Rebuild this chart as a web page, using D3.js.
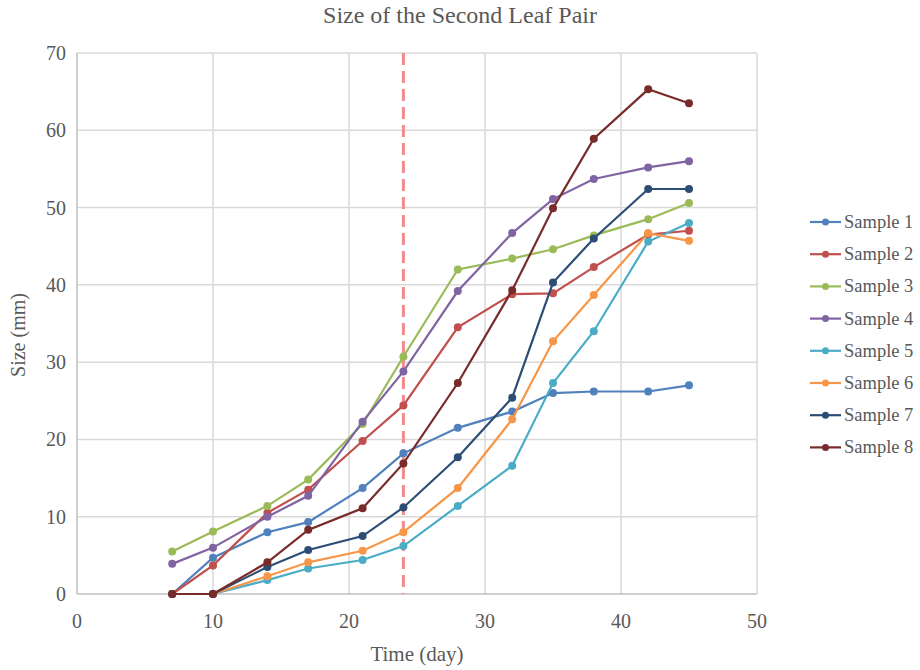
<!DOCTYPE html>
<html>
<head>
<meta charset="utf-8">
<script src="https://cdn.jsdelivr.net/npm/d3@7"></script>
<style>
body { margin: 0; background: #fff; }
text { font-family: "Liberation Serif", "Times New Roman", serif; }
</style>
</head>
<body>
<svg id="chart" width="920" height="670"></svg>
<script>
var days = [7, 10, 14, 17, 21, 24, 28, 32, 35, 38, 42, 45];

var sample1 = [0, 4.7, 8.0, 9.3, 13.7, 18.2, 21.5, 23.6, 26.0, 26.2, 26.2, 27.0];
var sample2 = [0, 3.7, 10.5, 13.5, 19.8, 24.4, 34.5, 38.8, 38.9, 42.3, 46.5, 47.0];
var sample3 = [5.5, 8.1, 11.4, 14.8, 22.0, 30.7, 42.0, 43.4, 44.6, 46.4, 48.5, 50.6];
var sample4 = [3.9, 6.0, 10.0, 12.7, 22.3, 28.8, 39.2, 46.7, 51.1, 53.7, 55.2, 56.0];
var sample5 = [0, 0, 1.8, 3.3, 4.4, 6.2, 11.4, 16.6, 27.3, 34.0, 45.6, 48.0];
var sample6 = [0, 0, 2.3, 4.1, 5.6, 8.0, 13.7, 22.6, 32.7, 38.7, 46.7, 45.7];
var sample7 = [0, 0, 3.5, 5.7, 7.5, 11.2, 17.7, 25.4, 40.3, 46.0, 52.4, 52.4];
var sample8 = [0, 0, 4.1, 8.3, 11.1, 16.9, 27.3, 39.3, 49.9, 58.9, 65.3, 63.5];

var seriesNames = ['Sample 1', 'Sample 2', 'Sample 3', 'Sample 4', 'Sample 5', 'Sample 6', 'Sample 7', 'Sample 8'];
var seriesValues = [sample1, sample2, sample3, sample4, sample5, sample6, sample7, sample8];
var colors = ['#4f81bd', '#c0504d', '#9bbb59', '#8064a2', '#4bacc6', '#f79646', '#2c4d75', '#772c2a'];

var xTicks = [0, 10, 20, 30, 40, 50];
var yTicks = [0, 10, 20, 30, 40, 50, 60, 70];
var markerDay = 24;

var svg = d3.select('#chart');
var plotLeft = 77, plotRight = 757, plotTop = 53, plotBottom = 594;

var x = d3.scaleLinear().domain([0, 50]).range([plotLeft, plotRight]);
var y = d3.scaleLinear().domain([0, 70]).range([plotBottom, plotTop]);

// gridlines
svg.append('g')
	.selectAll('line')
	.data(xTicks.slice(1))
	.enter()
	.append('line')
		.attr('x1', function(d) { return x(d); })
		.attr('x2', function(d) { return x(d); })
		.attr('y1', plotTop)
		.attr('y2', plotBottom)
		.attr('stroke', '#d9d9d9')
		.attr('stroke-width', 1.5);

svg.append('g')
	.selectAll('line')
	.data(yTicks.slice(1))
	.enter()
	.append('line')
		.attr('x1', plotLeft)
		.attr('x2', plotRight)
		.attr('y1', function(d) { return y(d); })
		.attr('y2', function(d) { return y(d); })
		.attr('stroke', '#d9d9d9')
		.attr('stroke-width', 1.5);

// axis lines
svg.append('line')
	.attr('x1', plotLeft).attr('x2', plotRight)
	.attr('y1', plotBottom).attr('y2', plotBottom)
	.attr('stroke', '#bfbfbf').attr('stroke-width', 1.5);
svg.append('line')
	.attr('x1', plotLeft).attr('x2', plotLeft)
	.attr('y1', plotTop).attr('y2', plotBottom)
	.attr('stroke', '#bfbfbf').attr('stroke-width', 1.5);

// tick labels
svg.append('g')
	.selectAll('text')
	.data(xTicks)
	.enter()
	.append('text')
		.attr('x', function(d) { return x(d); })
		.attr('y', plotBottom + 34)
		.attr('text-anchor', 'middle')
		.attr('font-size', 20)
		.attr('fill', '#595959')
		.text(function(d) { return d; });

svg.append('g')
	.selectAll('text')
	.data(yTicks)
	.enter()
	.append('text')
		.attr('x', plotLeft - 11)
		.attr('y', function(d) { return y(d) + 7; })
		.attr('text-anchor', 'end')
		.attr('font-size', 20)
		.attr('fill', '#595959')
		.text(function(d) { return d; });

// titles
svg.append('text')
	.attr('x', 460).attr('y', 23)
	.attr('text-anchor', 'middle')
	.attr('font-size', 24)
	.attr('fill', '#595959')
	.text('Size of the Second Leaf Pair');

svg.append('text')
	.attr('x', x(25)).attr('y', 661)
	.attr('text-anchor', 'middle')
	.attr('font-size', 21)
	.attr('fill', '#595959')
	.text('Time (day)');

svg.append('text')
	.attr('transform', 'translate(25,335) rotate(-90)')
	.attr('text-anchor', 'middle')
	.attr('font-size', 20)
	.attr('fill', '#595959')
	.text('Size (mm)');

// dashed reference line
svg.append('line')
	.attr('x1', x(markerDay)).attr('x2', x(markerDay))
	.attr('y1', plotTop).attr('y2', plotBottom)
	.attr('stroke', '#f28b8b')
	.attr('stroke-width', 3)
	.attr('stroke-dasharray', '12,6');

// series
var line = d3.line()
	.x(function(d) { return x(d[0]); })
	.y(function(d) { return y(d[1]); });

seriesValues.forEach(function(vals, i)
{
	var pts = days.map(function(d, j) { return [d, vals[j]]; });
	var g = svg.append('g');

	g.append('path')
		.datum(pts)
		.attr('d', line)
		.attr('fill', 'none')
		.attr('stroke', colors[i])
		.attr('stroke-width', 2.2);

	g.selectAll('circle')
		.data(pts)
		.enter()
		.append('circle')
			.attr('cx', function(d) { return x(d[0]); })
			.attr('cy', function(d) { return y(d[1]); })
			.attr('r', 4)
			.attr('fill', colors[i]);
});

// legend
var legend = svg.append('g')
	.selectAll('g')
	.data(seriesNames)
	.enter()
	.append('g')
		.attr('transform', function(d, i) { return 'translate(810,' + (222 + i * 32.2) + ')'; });

legend.append('line')
	.attr('x1', 0).attr('x2', 31)
	.attr('y1', 0).attr('y2', 0)
	.attr('stroke', function(d, i) { return colors[i]; })
	.attr('stroke-width', 2.2);

legend.append('circle')
	.attr('cx', 15.5).attr('cy', 0).attr('r', 3.5)
	.attr('fill', function(d, i) { return colors[i]; });

legend.append('text')
	.attr('x', 34).attr('y', 6)
	.attr('font-size', 18.5)
	.attr('fill', '#595959')
	.text(function(d) { return d; });
</script>
</body>
</html>
